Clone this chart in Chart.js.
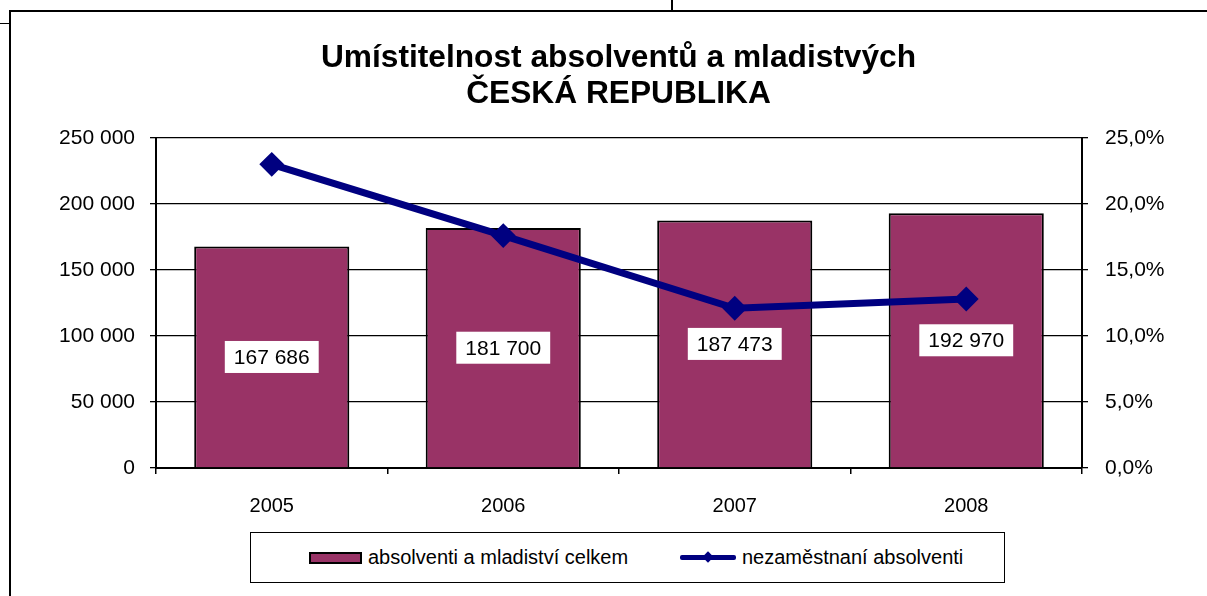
<!DOCTYPE html>
<html>
<head>
<meta charset="utf-8">
<script src="https://cdn.jsdelivr.net/npm/chart.js@4"></script>
<style>
  html, body { margin: 0; padding: 0; background: #fff; }
  body { width: 1207px; height: 596px; position: relative; overflow: hidden; font-family: "Liberation Sans", Arial, sans-serif; }
  #frame { position: absolute; left: 9px; top: 10px; right: -10px; bottom: -10px; border-left: 2px solid #000; border-top: 2px solid #000; }
  #tickLeft { position: absolute; left: 0; top: 23px; width: 10px; height: 0; border-top: 1.5px solid #000; }
  #tickTop { position: absolute; left: 671px; top: 0; width: 0; height: 10px; border-left: 2px solid #000; }
  #wrap { position: absolute; left: 0; top: 0; width: 1207px; height: 596px; }
  #legend { position: absolute; left: 250px; top: 532px; width: 753px; height: 49px; border: 1.5px solid #000; background: #fff; }
  .item { position: absolute; top: 0; height: 49px; line-height: 49px; font-size: 20px; color: #000; white-space: nowrap; }
  .swatch { position: absolute; }
</style>
</head>
<body>
<div id="frame"></div>
<div id="tickLeft"></div>
<div id="tickTop"></div>
<div id="wrap"><canvas id="myChart" width="1207" height="596"></canvas></div>
<div id="legend"></div>
<script>
var roky = ['2005', '2006', '2007', '2008'];
var absolventi = [167686, 181700, 187473, 192970];
var nezamestnani = [23.0, 17.6, 12.1, 12.8];
var nazvy = ['absolventi a mladiství celkem', 'nezaměstnaní absolventi'];
var titulek = ['Umístitelnost absolventů a mladistvých', 'ČESKÁ REPUBLIKA'];

var barva_sloupce = '#993366';
var barva_cary = '#000080';

// mezera jako oddelovac tisicu
function cislo(v) {
    return String(Math.round(v)).replace(/\B(?=(\d{3})+(?!\d))/g, ' ');
}

// bile stitky s hodnotami uprostred sloupcu
const stitky = {
    id: 'stitky',
    afterDatasetsDraw(chart) {
        const ctx = chart.ctx;
        const meta = chart.getDatasetMeta(1);
        ctx.save();
        ctx.font = '21px "Liberation Sans", Arial, sans-serif';
        ctx.textAlign = 'center';
        ctx.textBaseline = 'middle';
        meta.data.forEach(function (bar, i) {
            var text = cislo(absolventi[i]);
            var w = ctx.measureText(text).width + 18;
            var h = 32;
            var cy = (bar.y + bar.base) / 2;
            ctx.fillStyle = '#fff';
            ctx.fillRect(bar.x - w / 2, cy - h / 2, w, h);
            ctx.fillStyle = '#000';
            ctx.fillText(text, bar.x, cy + 1);
        });
        ctx.restore();
    }
};

var ctx = document.getElementById('myChart').getContext('2d');
var myChart = new Chart(ctx, {
    data: {
        labels: roky,
        datasets: [{
            type: 'line',
            label: nazvy[1],
            data: nezamestnani,
            yAxisID: 'y2',
            borderColor: barva_cary,
            backgroundColor: barva_cary,
            borderWidth: 7,
            pointStyle: 'rectRot',
            pointRadius: 11,
            pointBorderWidth: 2,
            tension: 0,
            order: 0
        }, {
            type: 'bar',
            label: nazvy[0],
            data: absolventi,
            yAxisID: 'y',
            backgroundColor: barva_sloupce,
            borderColor: '#000',
            borderWidth: 2,
            categoryPercentage: 1,
            barPercentage: 0.67,
            order: 1
        }]
    },
    options: {
        responsive: false,
        animation: false,
        layout: { padding: { left: 30, right: 0, top: 0, bottom: 0 } },
        plugins: {
            legend: { display: false },
            tooltip: { enabled: false },
            title: {
                display: true,
                text: titulek,
                color: '#000',
                font: { family: '"Liberation Sans", Arial, sans-serif', size: 31.7, weight: 'bold', lineHeight: 1.15 },
                padding: { top: 40, bottom: 25 }
            }
        },
        scales: {
            x: {
                offset: true,
                grid: { offset: true, drawOnChartArea: false, drawTicks: true, tickLength: 6, color: '#000', lineWidth: 1.5 },
                border: { color: '#000', width: 2 },
                ticks: { color: '#000', font: { family: '"Liberation Sans", Arial, sans-serif', size: 20 }, padding: 20 },
                afterFit: function (s) { s.height = 128; }
            },
            y: {
                position: 'left',
                min: 0,
                max: 250000,
                ticks: { stepSize: 50000, color: '#000', padding: 15, font: { family: '"Liberation Sans", Arial, sans-serif', size: 21 }, callback: function (v) { return cislo(v); } },
                grid: { color: '#000', lineWidth: 1.3, tickLength: 6 },
                border: { color: '#000', width: 2 },
                afterFit: function (s) { s.width = 126; }
            },
            y2: {
                position: 'right',
                min: 0,
                max: 25,
                ticks: { stepSize: 5, color: '#000', padding: 17, font: { family: '"Liberation Sans", Arial, sans-serif', size: 21 }, callback: function (v) { return v.toFixed(1).replace('.', ',') + '%'; } },
                grid: { drawOnChartArea: false, color: '#000', lineWidth: 1.3, tickLength: 6 },
                border: { color: '#000', width: 2 },
                afterFit: function (s) { s.width = 125; }
            }
        }
    },
    plugins: [stitky]
});

// legenda
var legend = document.getElementById('legend');
var i1 = document.createElement('div');
i1.className = 'item';
i1.style.left = '58px';
i1.innerHTML = '<span class="swatch" style="left:0;top:19px;width:49px;height:8px;background:' + barva_sloupce + ';border:2px solid #000"></span><span style="margin-left:59px">' + nazvy[0] + '</span>';
legend.appendChild(i1);
var i2 = document.createElement('div');
i2.className = 'item';
i2.style.left = '429px';
i2.innerHTML = '<span class="swatch" style="left:0;top:22px;width:56px;height:5px;background:' + barva_cary + ';border-radius:2px"></span>' +
    '<span class="swatch" style="left:24px;top:20px;width:8px;height:8px;background:' + barva_cary + ';transform:rotate(45deg)"></span>' +
    '<span style="margin-left:62px">' + nazvy[1] + '</span>';
legend.appendChild(i2);
</script>
</body>
</html>
